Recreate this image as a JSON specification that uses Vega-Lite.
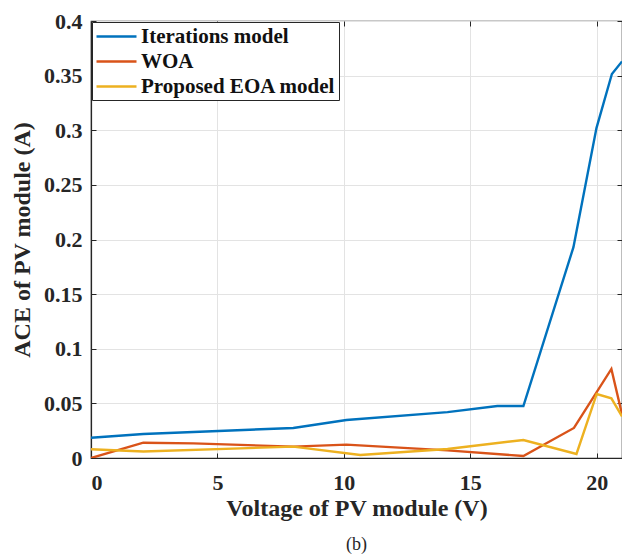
{
  "$schema": "https://vega.github.io/schema/vega-lite/v6.json",
  "width": 531,
  "height": 437,
  "autosize": "none",
  "padding": {"left": 91, "top": 21, "right": 0, "bottom": 99},
  "background": "white",
  "config": {
    "view": {"stroke": "#262626", "strokeWidth": 1.2},
    "font": "Liberation Serif",
    "axis": {"labelFont": "Liberation Serif", "titleFont": "Liberation Serif", "labelFontWeight": "bold", "titleFontWeight": "bold", "labelColor": "#262626", "titleColor": "#262626", "labelFontSize": 22, "titleFontSize": 24, "domainColor": "#262626", "tickColor": "#262626", "gridColor": "#e3e3e3", "gridWidth": 1, "domainWidth": 1.2}
  },
  "title": {"text": "(b)", "orient": "bottom", "anchor": "middle", "font": "Liberation Serif", "fontSize": 18, "fontWeight": "normal", "color": "#262626", "offset": 16},
  "data": {"values": [
    {"series": "Iterations model", "v": 0, "ace": 0.0186},
    {"series": "Iterations model", "v": 2.07, "ace": 0.022},
    {"series": "Iterations model", "v": 8.0, "ace": 0.0275},
    {"series": "Iterations model", "v": 10.1, "ace": 0.0348},
    {"series": "Iterations model", "v": 14.1, "ace": 0.042},
    {"series": "Iterations model", "v": 16.07, "ace": 0.0476},
    {"series": "Iterations model", "v": 17.1, "ace": 0.0476},
    {"series": "Iterations model", "v": 19.08, "ace": 0.193},
    {"series": "Iterations model", "v": 19.99, "ace": 0.302},
    {"series": "Iterations model", "v": 20.6, "ace": 0.3515},
    {"series": "Iterations model", "v": 21.0, "ace": 0.363},
    {"series": "WOA", "v": 0, "ace": 0.0},
    {"series": "WOA", "v": 2.07, "ace": 0.014},
    {"series": "WOA", "v": 4.05, "ace": 0.0134},
    {"series": "WOA", "v": 8.0, "ace": 0.0104},
    {"series": "WOA", "v": 10.1, "ace": 0.0122},
    {"series": "WOA", "v": 14.1, "ace": 0.007},
    {"series": "WOA", "v": 17.1, "ace": 0.0018},
    {"series": "WOA", "v": 19.1, "ace": 0.0275},
    {"series": "WOA", "v": 20.58, "ace": 0.0815},
    {"series": "WOA", "v": 21.0, "ace": 0.04},
    {"series": "Proposed EOA model", "v": 0, "ace": 0.008},
    {"series": "Proposed EOA model", "v": 2.07, "ace": 0.006},
    {"series": "Proposed EOA model", "v": 8.0, "ace": 0.0104},
    {"series": "Proposed EOA model", "v": 10.65, "ace": 0.0027},
    {"series": "Proposed EOA model", "v": 14.1, "ace": 0.0082},
    {"series": "Proposed EOA model", "v": 17.1, "ace": 0.0165},
    {"series": "Proposed EOA model", "v": 19.2, "ace": 0.0037},
    {"series": "Proposed EOA model", "v": 20.0, "ace": 0.0586},
    {"series": "Proposed EOA model", "v": 20.58, "ace": 0.0546},
    {"series": "Proposed EOA model", "v": 21.0, "ace": 0.038}
  ]},
  "resolve": {"axis": {"x": "independent", "y": "independent"}},
  "layer": [
    {
      "mark": {"type": "line", "strokeWidth": 2.4, "clip": true},
      "encoding": {
        "x": {"field": "v", "type": "quantitative", "scale": {"domain": [0, 21], "nice": false},
              "axis": {"title": "Voltage of PV module (V)", "values": [0, 5, 10, 15, 20], "tickSize": -5, "labelPadding": 19, "titlePadding": 3, "grid": true}},
        "y": {"field": "ace", "type": "quantitative", "scale": {"domain": [0, 0.4], "nice": false},
              "axis": {"title": "ACE of PV module (A)", "values": [0, 0.05, 0.1, 0.15, 0.2, 0.25, 0.3, 0.35, 0.4], "format": "~g", "tickSize": -5, "labelPadding": 14, "titlePadding": 9, "grid": true}},
        "color": {"field": "series", "type": "nominal",
                  "scale": {"domain": ["Iterations model", "WOA", "Proposed EOA model"], "range": ["#0072BD", "#D95319", "#EDB120"]},
                  "legend": {"title": null, "orient": "top-left", "offset": 1, "symbolType": "M-1,0H3", "symbolSize": 400, "symbolStrokeWidth": 2.5, "labelFont": "Liberation Serif", "labelFontWeight": "bold", "labelFontSize": 21, "labelColor": "#111", "labelLimit": 0, "strokeColor": "#262626", "fillColor": "white", "padding": 3, "rowPadding": 3, "labelOffset": 23}}
      }
    },
    {
      "mark": {"type": "line", "opacity": 0},
      "encoding": {
        "x": {"field": "v", "type": "quantitative",
              "axis": {"orient": "top", "title": null, "labels": false, "values": [0, 5, 10, 15, 20], "tickSize": -5, "grid": false, "domain": false}},
        "y": {"field": "ace", "type": "quantitative",
              "axis": {"orient": "right", "title": null, "labels": false, "values": [0, 0.05, 0.1, 0.15, 0.2, 0.25, 0.3, 0.35, 0.4], "tickSize": -5, "grid": false, "domain": false}},
        "detail": {"field": "series", "type": "nominal"}
      }
    }
  ]
}
